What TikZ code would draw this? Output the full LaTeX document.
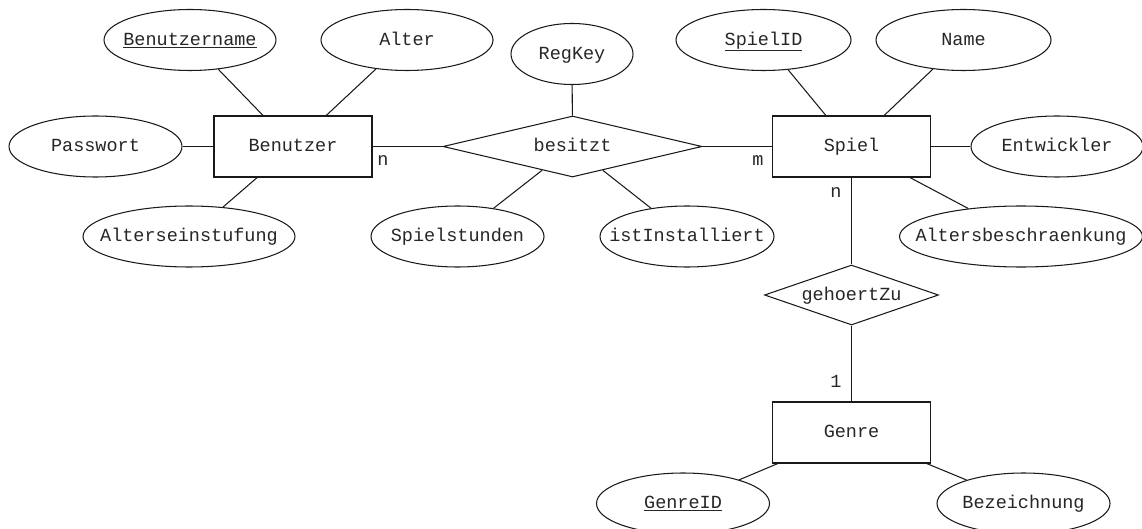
\documentclass[tikz,border=0pt]{standalone}
\usepackage{fontspec}
\setmonofont{Liberation Mono}
\usetikzlibrary{shapes.geometric}
% keep the text from widening the shape: its size comes from the style
\newcommand\lbl[1]{\makebox[0pt]{#1}}

\begin{document}
\begin{tikzpicture}[x=1pt, y=-1pt, line width=1.05pt, draw=black!90,
  every node/.style={font=\ttfamily\fontsize{18.5}{20}\selectfont, text=black!85,
    text height=13.5pt, text depth=3.1pt},
  attr/.style={ellipse, draw, minimum width=173, minimum height=61, inner sep=0},
  entity/.style={rectangle, draw, minimum width=158, minimum height=61, inner sep=0},
  rel/.style={diamond, draw, minimum height=61, inner sep=0},
  card/.style={inner sep=0}]
\useasboundingbox (0,0) rectangle (1142,529);

% entities and relationships
\node[entity] (benutzer) at (293,146.5) {\lbl{Benutzer}};
\node[entity] (spiel) at (851.5,146.5) {\lbl{Spiel}};
\node[entity] (genre) at (851.5,432.5) {\lbl{Genre}};
\node[rel, minimum width=259] (besitzt) at (572.5,146.5) {\lbl{besitzt}};
\node[rel, minimum width=174, minimum height=60] (gehoert) at (851.5,295) {\lbl{gehoertZu}};

% attributes
\node[attr, minimum width=172] (bname) at (190,40) {\lbl{\underline{Benutzername}}};
\node[attr, minimum width=172] (alter) at (407,40) {\lbl{Alter}};
\node[attr, minimum width=122] (regkey) at (572,54) {\lbl{RegKey}};
\node[attr, minimum width=175] (spielid) at (763.5,40) {\lbl{\underline{SpielID}}};
\node[attr, minimum width=175] (name) at (963.5,40) {\lbl{Name}};
\node[attr] (passwort) at (95.5,146.5) {\lbl{Passwort}};
\node[attr, minimum width=172] (entw) at (1057,146.5) {\lbl{Entwickler}};
\node[attr, minimum width=212] (alterse) at (189,236.5) {\lbl{Alterseinstufung}};
\node[attr] (stunden) at (457.5,236.5) {\lbl{Spielstunden}};
\node[attr, minimum width=174] (inst) at (687,236.5) {\lbl{istInstalliert}};
\node[attr, minimum width=243] (altersb) at (1021,236.5) {\lbl{Altersbeschraenkung}};
\node[attr] (genreid) at (683,503.5) {\lbl{\underline{GenreID}}};
\node[attr] (bez) at (1023.5,503.5) {\lbl{Bezeichnung}};

% attribute links
\draw (bname) -- (benutzer);
\draw (alter) -- (benutzer);
\draw (passwort) -- (benutzer);
\draw (alterse) -- (benutzer);
\draw (regkey) -- (besitzt);
\draw (stunden) -- (besitzt);
\draw (inst) -- (besitzt);
\draw (spielid) -- (spiel);
\draw (name) -- (spiel);
\draw (entw) -- (spiel);
\draw (altersb) -- (spiel);
\draw (genreid) -- (genre);
\draw (bez) -- (genre);

% relationship links
\draw (benutzer) -- (besitzt);
\draw (besitzt) -- (spiel);
\draw (spiel) -- (gehoert);
\draw (gehoert) -- (genre);

% cardinalities
\node[card] (cbn) at (383,160) {n};
\node[card] (csm) at (758,160) {m};
\node[card] (csn) at (836,192) {n};
\node[card] (cg1) at (836,382) {1};
\end{tikzpicture}
\end{document}
